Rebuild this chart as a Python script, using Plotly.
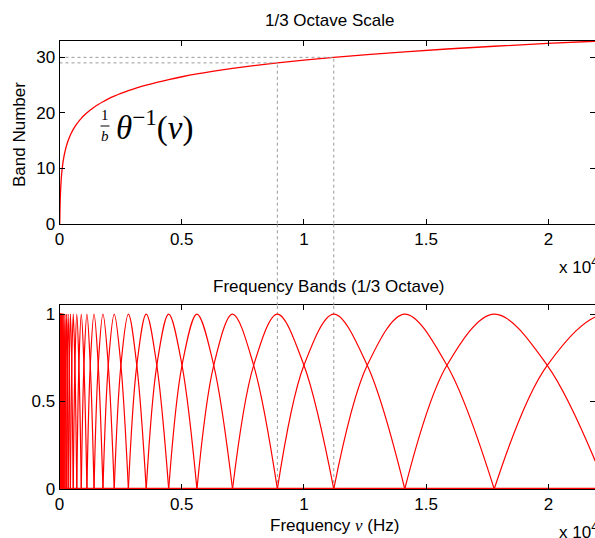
import plotly.graph_objects as go

# ---- data (1/3-octave bands) ----
band_numbers = list(range(-1, 35))          # band index n
band_centers = [8.913, 11.22, 14.13, 17.78, 22.39, 28.18, 35.48, 44.67, 56.23, 70.79,
                89.13, 112.2, 141.3, 177.8, 223.9, 281.8, 354.8, 446.7, 562.3, 707.9,
                891.3, 1122, 1413, 1778, 2239, 2818, 3548, 4467, 5623, 7079,
                8913, 11220, 14125, 17783, 22387, 28184]      # centre freq of band n (Hz)
band_edges = [10.0, 12.59, 15.85, 19.95, 25.12, 31.62, 39.81, 50.12, 63.10, 79.43,
              100.0, 125.9, 158.5, 199.5, 251.2, 316.2, 398.1, 501.2, 631.0, 794.3,
              1000, 1259, 1585, 1995, 2512, 3162, 3981, 5012, 6310, 7943,
              10000, 12589, 15849, 19953, 25119]              # upper edge of band n, n=-1..33
arch_profile = [0.0, 0.707, 1.0, 0.707, 0.0]                # response at c[n-1], edge, c[n], edge, c[n+1]
marked_bands = [29, 30]
x_max = 22050
x_ticks = [0, 5000, 10000, 15000, 20000]
x_ticktext = ["0", "0.5", "1", "1.5", "2"]
y1_ticks = [0, 10, 20, 30]
y2_ticks = [0, 0.5, 1]
y2_ticktext = ["0", "0.5", "1"]

RED = "#ff0000"
GRAY = "#9a9a9a"
FONT = "Liberation Sans"
FS = 17

W, H = 595, 538
L_PX, R_PX = 59.5, 598.5
T1, B1 = 40.7, 223.7
T2, B2 = 305.3, 489.0

fig = go.Figure()

# top curve: band number vs frequency (centres and edges)
top_x, top_y = [], []
for i, n in enumerate(band_numbers):
    if n < 0:
        continue
    top_x.append(band_centers[i]); top_y.append(n)
    if i < len(band_edges):
        top_x.append(band_edges[i]); top_y.append(n + 0.5)
pairs = sorted(zip(top_x, top_y))
fig.add_trace(go.Scatter(x=[p[0] for p in pairs], y=[p[1] for p in pairs], mode="lines",
                         line=dict(color=RED, width=1.3, shape="spline"),
                         xaxis="x", yaxis="y", hoverinfo="skip"))

dash = dict(color=GRAY, width=1, dash="3px,3px")
for b in marked_bands:
    i = band_numbers.index(b)
    c = band_centers[i]
    fig.add_trace(go.Scatter(x=[0, c], y=[b, b], mode="lines", line=dash, xaxis="x", yaxis="y"))
    fig.add_trace(go.Scatter(x=[c, c], y=[0, b], mode="lines", line=dash, xaxis="x", yaxis="y"))
    fig.add_trace(go.Scatter(x=[c, c], y=[0, 1.05], mode="lines", line=dash, xaxis="x2", yaxis="y2"))
    # continue the vertical dashed line through the gap between the panels
    fig.add_shape(type="line", xref="x", yref="paper", x0=c, x1=c,
                  y0=1 - T2 / H, y1=1 - B1 / H, line=dash)

# bottom: filter bank arches
for i, n in enumerate(band_numbers):
    if n < 0 or n > 33:
        continue
    xs = [band_centers[i - 1], band_edges[i - 1], band_centers[i], band_edges[i], band_centers[i + 1]]
    fig.add_trace(go.Scatter(x=xs, y=arch_profile, mode="lines",
                             line=dict(color=RED, width=1.2, shape="spline"),
                             xaxis="x2", yaxis="y2", hoverinfo="skip"))
fig.add_trace(go.Scatter(x=[0, x_max], y=[0, 0], mode="lines",
                         line=dict(color=RED, width=2.5), xaxis="x2", yaxis="y2", cliponaxis=False))

axis_common = dict(showline=True, linecolor="black", linewidth=1, mirror="allticks",
                   ticks="inside", ticklen=5, tickcolor="black", showgrid=False, zeroline=False,
                   automargin=False, tickfont=dict(family=FONT, size=FS, color="black"))
fig.update_layout(
    width=W, height=H, margin=dict(l=0, r=0, t=0, b=0, pad=0), autosize=False,
    paper_bgcolor="white", plot_bgcolor="white", showlegend=False,
    xaxis=dict(domain=[L_PX / W, 1.0], range=[0, x_max * (W - L_PX) / (R_PX - L_PX)],
               tickvals=x_ticks, ticktext=x_ticktext, anchor="y", **axis_common),
    yaxis=dict(domain=[1 - B1 / H, 1 - T1 / H], range=[0, 33], tickvals=y1_ticks,
               anchor="x", **axis_common),
    xaxis2=dict(domain=[L_PX / W, 1.0], range=[0, x_max * (W - L_PX) / (R_PX - L_PX)],
                tickvals=x_ticks, ticktext=x_ticktext, anchor="y2", **axis_common),
    yaxis2=dict(domain=[1 - B2 / H, 1 - T2 / H], range=[0, 1.05], tickvals=y2_ticks,
                ticktext=y2_ticktext, anchor="x2", **axis_common),
)

def ann(text, x, y, size=FS, xanchor="center", yanchor="middle", family=FONT, angle=0):
    fig.add_annotation(text=text, x=x / W, y=1 - y / H, xref="paper", yref="paper",
                       showarrow=False, xanchor=xanchor, yanchor=yanchor, textangle=angle,
                       font=dict(family=family, size=size, color="black"))

ann("1/3 Octave Scale", 329, 20)
ann("Frequency Bands (1/3 Octave)", 329, 286)
ann("Frequency <span style='font-family:Liberation Serif'><i>ν</i></span> (Hz)", 268, 525, xanchor="left")
ann("Band Number", 19, 135, angle=-90)
ann("x 10<sup>4</sup>", 557, 266, xanchor="left")
ann("x 10<sup>4</sup>", 557, 531, xanchor="left")

# formula label  (1/b) θ^-1(ν)
ann("1", 105, 115, size=15, family="Liberation Serif")
ann("<i>b</i>", 105, 136, size=15, family="Liberation Serif")
fig.add_shape(type="line", xref="paper", yref="paper", x0=100.5 / W, x1=109.5 / W,
              y0=1 - 126 / H, y1=1 - 126 / H, line=dict(color="black", width=1))
ann("<i>θ</i><sup>−1</sup>(<i>ν</i>)", 114, 125, size=33, xanchor="left", family="Liberation Serif")

fig.write_html("out.html", config={"displayModeBar": False},
               post_script="document.body.style.margin='0px';")
